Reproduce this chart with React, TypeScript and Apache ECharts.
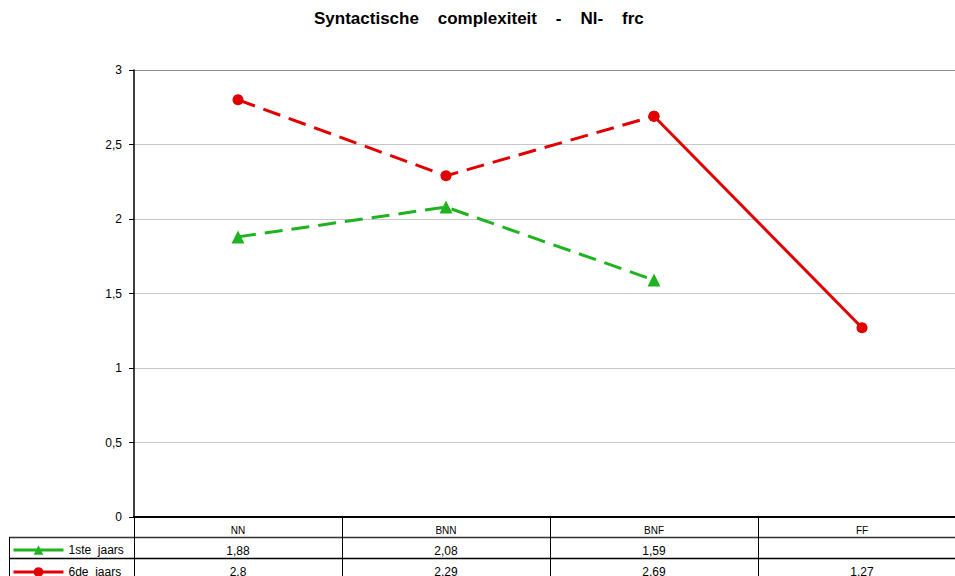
import React, { useEffect, useRef } from "react";
import * as echarts from "echarts";

const titleText = "Syntactische    complexiteit    -    Nl-    frc";
const categories = ["NN", "BNN", "BNF", "FF"];
const seriesNames = ["1ste  jaars", "6de  jaars"];
const firstYear: (number | null)[] = [1.88, 2.08, 1.59, null];
const sixthYear: (number | null)[] = [2.8, 2.29, 2.69, 1.27];
const sixthDashed: (number | null)[] = [2.8, 2.29, 2.69, null];
const sixthSolid: (number | null)[] = [null, null, 2.69, 1.27];
const yTicks = { min: 0, max: 3, interval: 0.5 };

const GREEN = "#1fb41f";
const RED = "#e00000";
const FONT = "Liberation Sans, Arial, sans-serif";

const fmt = (v: number | null) => (v == null ? "" : String(v).replace(".", ","));

export default function App() {
  const ref = useRef<HTMLDivElement>(null);
  useEffect(() => {
    if (!ref.current) return;
    const chart = echarts.init(ref.current, undefined, { renderer: "svg" });
    const gridLeft = 134;
    const gridTop = 70;
    const gridW = 832;
    const gridH = 447;
    const rowAxis = (values: (number | null)[], offset: number) => ({
      type: "category",
      gridIndex: 0,
      position: "bottom",
      offset,
      data: categories,
      boundaryGap: true,
      axisLine: { show: false },
      axisTick: { show: false },
      splitLine: { show: false },
      axisLabel: {
        interval: 0,
        margin: 7,
        fontSize: 12,
        color: "#000",
        fontFamily: FONT,
        formatter: (_v: string, i: number) => fmt(values[i]),
      },
    });
    const legendBase = {
      orient: "vertical",
      left: 12,
      itemWidth: 50,
      itemHeight: 12,
      padding: 0,
      lineStyle: { type: "solid", width: 3 },
      textStyle: { fontSize: 12, color: "#000", fontFamily: FONT },
    };
    chart.setOption({
      animation: false,
      backgroundColor: "#fff",
      textStyle: { fontFamily: FONT },
      title: {
        text: titleText,
        left: 314,
        top: 10,
        padding: 0,
        textStyle: { fontSize: 17, fontWeight: "bold", color: "#000", fontFamily: FONT },
      },
      legend: [
        { ...legendBase, top: 544, data: [seriesNames[0]] },
        { ...legendBase, top: 566, data: [seriesNames[1]] },
      ],
      grid: {
        left: gridLeft,
        top: gridTop,
        width: gridW,
        height: gridH,
        containLabel: false,
        outerBoundsMode: "none",
      },
      xAxis: [
        {
          type: "category",
          data: categories,
          boundaryGap: true,
          axisLine: { show: true, lineStyle: { color: "#000", width: 2 } },
          axisTick: {
            show: true,
            interval: 0,
            alignWithLabel: false,
            length: 62,
            lineStyle: { color: "#000", width: 1 },
          },
          axisLabel: { interval: 0, margin: 8, fontSize: 10, color: "#000", fontFamily: FONT },
          splitLine: { show: false },
        },
        rowAxis(firstYear, 21),
        rowAxis(sixthYear, 42),
      ],
      yAxis: {
        type: "value",
        min: yTicks.min,
        max: yTicks.max,
        interval: yTicks.interval,
        axisLine: { show: true, lineStyle: { color: "#000", width: 1.5 } },
        axisTick: { show: true, length: 5, lineStyle: { color: "#000" } },
        axisLabel: {
          margin: 12,
          fontSize: 12,
          color: "#000",
          fontFamily: FONT,
          formatter: (v: number) => fmt(v),
        },
        splitLine: {
          show: true,
          lineStyle: {
            color: ["#c8c8c8", "#c8c8c8", "#c8c8c8", "#c8c8c8", "#c8c8c8", "#c8c8c8", "#8c8c8c"],
            width: 1,
          },
        },
      },
      graphic: [
        { type: "line", shape: { x1: 9, y1: 537.5, x2: 955, y2: 537.5 }, style: { stroke: "#333", lineWidth: 1.5 } },
        { type: "line", shape: { x1: 9, y1: 558.5, x2: 955, y2: 558.5 }, style: { stroke: "#000", lineWidth: 1.5 } },
        { type: "line", shape: { x1: 9.5, y1: 537, x2: 9.5, y2: 576 }, style: { stroke: "#000", lineWidth: 1 } },
      ],
      series: [
        {
          name: seriesNames[0],
          type: "line",
          data: firstYear,
          symbol: "triangle",
          symbolSize: 13,
          itemStyle: { color: GREEN },
          lineStyle: { color: GREEN, width: 3, type: [18, 9] },
        },
        {
          name: seriesNames[1],
          type: "line",
          data: sixthDashed,
          symbol: "circle",
          symbolSize: 11,
          itemStyle: { color: RED },
          lineStyle: { color: RED, width: 3, type: [18, 9] },
        },
        {
          name: seriesNames[1],
          type: "line",
          data: sixthSolid,
          symbol: "circle",
          symbolSize: 11,
          itemStyle: { color: RED },
          lineStyle: { color: RED, width: 3, type: "solid" },
        },
      ],
    });
    return () => chart.dispose();
  }, []);
  return (
    <div
      ref={ref}
      style={{ position: "fixed", left: 0, top: 0, width: 955, height: 576 }}
    />
  );
}
